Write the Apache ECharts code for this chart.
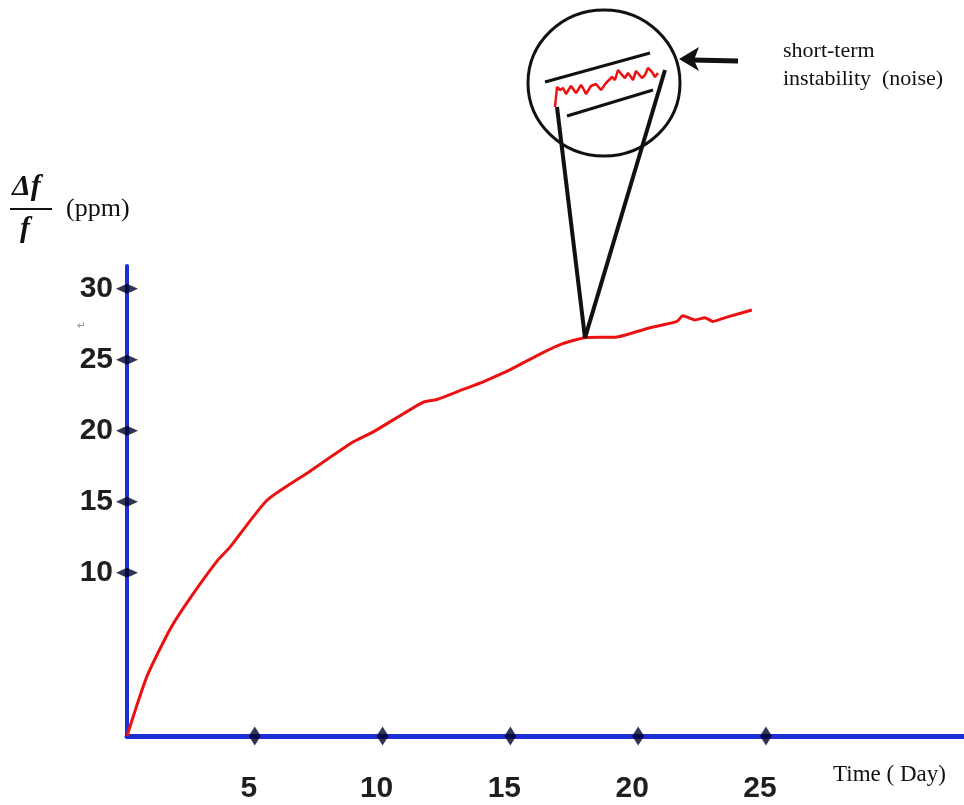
<!DOCTYPE html>
<html><head><meta charset="utf-8">
<script src="https://cdn.jsdelivr.net/npm/echarts@6/dist/echarts.min.js"></script>
<style>html,body{margin:0;padding:0;background:#fff}#c{width:964px;height:805px}</style>
</head><body><div id="c"></div>
<script>
// ---- data ----
const days = [0, 0.78, 1.68, 2.35, 3.56, 4.03, 5.48, 7.04, 8.84, 9.62, 11.58, 12.13, 13.0, 14.0, 15.0, 16.16, 17.0, 17.92, 19.17, 20.46, 21.52, 21.75, 22.22, 22.61, 22.93, 23.47, 24.45];
const ppm  = [-1.5, 2.7, 6.0, 7.9, 10.9, 11.8, 15.1, 17.0, 19.2, 19.9, 22.0, 22.2, 22.8, 23.5, 24.3, 25.4, 26.1, 26.55, 26.6, 27.25, 27.7, 28.1, 27.8, 27.95, 27.7, 28.0, 28.5];
const xTicks = [5, 10, 15, 20, 25];
const yTicks = [10, 15, 20, 25, 30];
// magnified noise sample (inset units)
const noiseX = [2, 4, 7, 10, 13, 15, 18, 20, 23, 25, 28, 30, 33, 35, 38, 40, 43, 45, 48, 50, 53, 55, 59, 62, 65, 69, 72, 75, 78, 80, 83, 85, 89, 92, 95, 99, 102, 105];
const noiseY = [3, 23, 20, 22, 16, 18, 24, 23, 17, 20, 25, 22, 16, 18, 24, 23, 26, 27, 20, 22, 27, 28, 33, 30, 40, 35, 32, 37, 33, 30, 39, 37, 32, 35, 42, 38, 33, 37];
const zoomPoint = [17.92, 26.54];
const yMin = -1.5, yMax = 31.6, xMin = 0, xMax = 32.75;

const chart = echarts.init(document.getElementById('c'));
const blue = '#1c2fd6';
const tickCol = '#000028';
const labelFont = {fontSize: 30, fontWeight: 'bold', fontFamily: 'Liberation Sans, Arial, sans-serif', color: '#1e1e1e'};

const option = {
  animation: false,
  backgroundColor: '#fff',
  grid: [
    {left: 127, right: 0, top: 266, bottom: 69, containLabel: false},
    {left: 553, top: 60, width: 107, height: 50}
  ],
  xAxis: [
    {type: 'value', gridIndex: 0, min: xMin, max: xMax,
     axisLine: {show: true, onZero: false, lineStyle: {color: blue, width: 5}},
     axisTick: {show: false}, splitLine: {show: false},
     axisLabel: Object.assign({customValues: xTicks, margin: 38, padding: [0, 12, 0, 0]}, labelFont)},
    {type: 'value', gridIndex: 1, min: 0, max: 107, show: false}
  ],
  yAxis: [
    {type: 'value', gridIndex: 0, min: yMin, max: yMax,
     axisLine: {show: true, onZero: false, lineStyle: {color: blue, width: 4}},
     axisTick: {show: false}, splitLine: {show: false},
     axisLabel: Object.assign({customValues: yTicks, margin: 14}, labelFont)},
    {type: 'value', gridIndex: 1, min: 0, max: 50, show: false}
  ],
  series: [
    {type: 'line', xAxisIndex: 0, yAxisIndex: 0, data: days.map((d, i) => [d, ppm[i]]),
     showSymbol: false, clip: false, smooth: 0.2, lineStyle: {color: '#ec1111', width: 3}, z: 3},
    {type: 'scatter', xAxisIndex: 0, yAxisIndex: 0, data: yTicks.map(v => [0, v]),
     symbol: 'diamond', symbolSize: [22, 10], itemStyle: {color: tickCol}, clip: false, z: 4},
    {type: 'scatter', xAxisIndex: 0, yAxisIndex: 0, data: xTicks.map(v => [v, yMin]),
     symbol: 'diamond', symbolSize: [12, 19], itemStyle: {color: tickCol}, clip: false, z: 4},
    {type: 'line', xAxisIndex: 1, yAxisIndex: 1, data: noiseX.map((x, i) => [x, noiseY[i]]),
     showSymbol: false, clip: false, lineStyle: {color: '#ee1111', width: 2.5}, z: 5}
  ]
};
chart.setOption(option);

const apex = chart.convertToPixel({gridIndex: 0}, zoomPoint);
const serif = 'Liberation Serif, Times New Roman, serif';
chart.setOption({
  graphic: [
    {type: 'ellipse', shape: {cx: 604, cy: 83, rx: 76, ry: 73}, style: {fill: 'none', stroke: '#111', lineWidth: 3}, z: 10},
    {type: 'line', shape: {x1: 545, y1: 82, x2: 650, y2: 53}, style: {stroke: '#111', lineWidth: 3}, z: 10},
    {type: 'line', shape: {x1: 567, y1: 116, x2: 653, y2: 90}, style: {stroke: '#111', lineWidth: 3}, z: 10},
    {type: 'line', shape: {x1: 557, y1: 107, x2: apex[0], y2: apex[1]}, style: {stroke: '#111', lineWidth: 4}, z: 10},
    {type: 'line', shape: {x1: 665, y1: 70, x2: apex[0], y2: apex[1]}, style: {stroke: '#111', lineWidth: 4}, z: 10},
    {type: 'line', shape: {x1: 692, y1: 60, x2: 738, y2: 61}, style: {stroke: '#111', lineWidth: 5}, z: 10},
    {type: 'polygon', shape: {points: [[679, 59], [699, 47], [694, 60], [699, 71]]}, style: {fill: '#111'}, z: 10},
    {type: 'text', left: 783, top: 40, style: {text: 'short-term', font: '22px ' + serif, fill: '#111'}, z: 10},
    {type: 'text', left: 783, top: 68, style: {text: 'instability  (noise)', font: '22px ' + serif, fill: '#111'}, z: 10},
    {type: 'text', left: 833, top: 763, style: {text: 'Time ( Day)', font: '23px ' + serif, fill: '#111'}, z: 10},
    {type: 'text', left: 12, top: 172, style: {text: 'Δf', font: 'italic bold 30px ' + serif, fill: '#111'}, z: 10},
    {type: 'line', shape: {x1: 10, y1: 209, x2: 52, y2: 209}, style: {stroke: '#111', lineWidth: 2}, z: 10},
    {type: 'text', left: 20, top: 214, style: {text: 'f', font: 'italic bold 30px ' + serif, fill: '#111'}, z: 10},
    {type: 'text', left: 66, top: 196, style: {text: '(ppm)', font: '26px ' + serif, fill: '#111'}, z: 10},
    {type: 'text', left: 77, top: 321, style: {text: '↵', font: '11px DejaVu Sans, sans-serif', fill: '#999'}, z: 10}
  ]
});
</script>
</body></html>
